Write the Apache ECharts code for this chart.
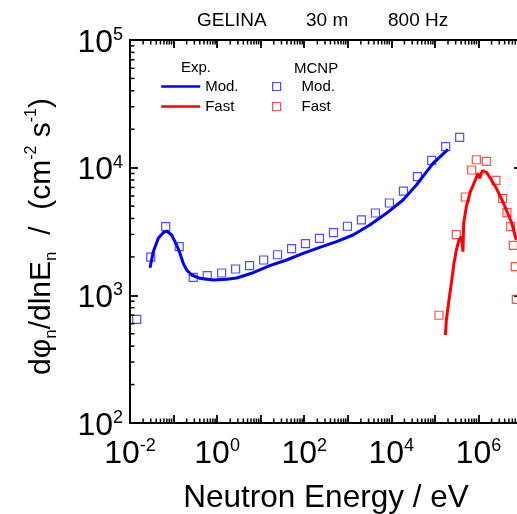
<!DOCTYPE html>
<html>
<head>
<meta charset="utf-8">
<script src="https://cdn.jsdelivr.net/npm/echarts@6/dist/echarts.min.js"></script>
<style>
html,body{margin:0;padding:0;background:#fff;}
#chart{width:517px;height:514px;}
</style>
</head>
<body>
<div id="chart"></div>
<script>
// ---- data ----
const expModEnergy = [0.0288, 0.0342, 0.0446, 0.0580, 0.0695, 0.0904, 0.1178, 0.1402, 0.1669, 0.1998, 0.2602, 0.4032, 0.814, 1.652, 2.801, 6.73, 16.26, 39.3, 94.4, 228, 551, 1323, 3195, 7720, 18550, 37640, 90450, 199800];
const expModFlux   = [1646, 2197, 2797, 3094, 3190, 2969, 2479, 2134, 1781, 1579, 1443, 1359, 1319, 1336, 1367, 1504, 1707, 1891, 2134, 2378, 2631, 2969, 3555, 4390, 5580, 7314, 10820, 13920];

const expFastEnergy = [174100, 183500, 210500, 238900, 274400, 311200, 357200, 405300, 441000, 457700, 527800, 652000, 818000, 974000, 1065000, 1229000, 1567000, 1977000, 2574000, 3352000, 4364000, 5684000, 7401000];
const expFastFlux   = [489, 641, 919, 1243, 1781, 2265, 2713, 2879, 2197, 3666, 4945, 6481, 7762, 9033, 8253, 9467, 9131, 8004, 6892, 5754, 4660, 3772, 2713];

const mcnpModEnergy = [0.01426, 0.0299, 0.0659, 0.135, 0.283, 0.593, 1.27, 2.66, 5.56, 11.7, 24.4, 51.2, 107, 224, 470, 984, 2060, 4315, 9040, 18960, 39700, 84500, 177000, 371000];
const mcnpModFlux   = [649, 1995, 3451, 2404, 1384, 1426, 1496, 1608, 1706, 1891, 2080, 2318, 2537, 2797, 3096, 3475, 3893, 4416, 5288, 6562, 8494, 11420, 14590, 17290];

const mcnpFastEnergy = [124200, 311200, 500600, 698200, 895000, 1518000, 2520000, 3589000, 4505000, 5477000, 6318000, 7022000, 7401000];
const mcnpFastFlux   = [698, 2985, 5891, 9587, 11540, 11220, 7962, 5754, 4438, 3448, 2466, 1676, 931];

const xLabelExponents = [-2, 0, 2, 4, 6];
const yLabelExponents = [2, 3, 4, 5];
const minorMultipliers = [2, 3, 4, 5, 6, 7, 8, 9];
const xDecades = [-2, -1, 0, 1, 2, 3, 4, 5, 6];
const yDecades = [2, 3, 4];

const titleParts = ['GELINA', '30 m', '800 Hz'];
const legendNames = {expMod: 'Mod.', expFast: 'Fast', mcnpMod: 'Mod.', mcnpFast: 'Fast'};

// ---- helpers ----
const FONT = '"Liberation Sans", Arial, Helvetica, sans-serif';
const BLUE = '#0000ff', RED = '#ff0000', MBLUE = '#2222ff', MRED = '#ff2222';
function zip(a, b) { return a.map((v, i) => [v, b[i]]); }
function expOf(v) { return Math.round(Math.log10(v)); }
const xMinor = [], yMinor = [];
xDecades.forEach(d => minorMultipliers.forEach(m => xMinor.push([m * Math.pow(10, d), 1000])));
yDecades.forEach(d => minorMultipliers.forEach(m => yMinor.push([1, m * Math.pow(10, d)])));

const tickRich = {
  b: {fontSize: 32, fontFamily: FONT, color: '#000', lineHeight: 34},
  s: {fontSize: 18, fontFamily: FONT, color: '#000', lineHeight: 18, verticalAlign: 'top'}
};
function xFmt(v) { const e = expOf(v); return xLabelExponents.indexOf(e) >= 0 ? '{b|10}{s|' + e + '}' : ''; }
function yFmt(v) { const e = expOf(v); return yLabelExponents.indexOf(e) >= 0 ? '{b|10}{s|' + e + '}' : ''; }

const axisLineStyle = {show: true, onZero: false, lineStyle: {color: '#000', width: 2}};
const tickStyle = {show: true, inside: true, length: 8, lineStyle: {color: '#000', width: 1.8}};
const MINOR_LEN = 4.5, MINOR_COLOR = '#000000', MINOR_W = 1.5;

function renderXMinor(params, api) {
  const cs = params.coordSys;
  const x = api.coord([api.value(0), api.value(1)])[0];
  const yb = cs.y + cs.height, yt = cs.y;
  return {type: 'group', children: [
    {type: 'line', shape: {x1: x, y1: yb, x2: x, y2: yb - MINOR_LEN}, style: {stroke: MINOR_COLOR, lineWidth: MINOR_W}},
    {type: 'line', shape: {x1: x, y1: yt, x2: x, y2: yt + MINOR_LEN}, style: {stroke: MINOR_COLOR, lineWidth: MINOR_W}}
  ]};
}
function renderYMinor(params, api) {
  const cs = params.coordSys;
  const y = api.coord([api.value(0), api.value(1)])[1];
  const xl = cs.x, xr = cs.x + cs.width;
  return {type: 'group', children: [
    {type: 'line', shape: {x1: xl, y1: y, x2: xl + MINOR_LEN, y2: y}, style: {stroke: MINOR_COLOR, lineWidth: MINOR_W}},
    {type: 'line', shape: {x1: xr, y1: y, x2: xr - MINOR_LEN, y2: y}, style: {stroke: MINOR_COLOR, lineWidth: MINOR_W}}
  ]};
}

const hiddenSymbol = {color: 'rgba(0,0,0,0)', borderColor: 'rgba(0,0,0,0)', borderWidth: 0, opacity: 0};
const squareIcon = 'path://M0,0L10,0L10,10L0,10Z';

const chart = echarts.init(document.getElementById('chart'), null, {renderer: 'canvas'});
const option = {
  animation: false,
  backgroundColor: '#fff',
  grid: {left: 130, top: 40, width: 392, height: 383, containLabel: false, outerBoundsMode: 'none'},
  xAxis: [
    {type: 'log', logBase: 10, min: 0.01, max: 1e7, splitNumber: 9, position: 'bottom',
     axisLine: axisLineStyle, axisTick: tickStyle, splitLine: {show: false},
     axisLabel: {interval: 0, formatter: xFmt, rich: tickRich, margin: 14, showMinLabel: true, showMaxLabel: true},
     name: 'Neutron Energy / eV', nameLocation: 'middle', nameGap: 59,
     nameTextStyle: {fontSize: 31.5, fontFamily: FONT, color: '#000'}},
    {type: 'log', logBase: 10, min: 0.01, max: 1e7, splitNumber: 9, position: 'top',
     axisLine: axisLineStyle, axisTick: tickStyle, splitLine: {show: false}, axisLabel: {show: false}}
  ],
  yAxis: [
    {type: 'log', logBase: 10, min: 100, max: 1e5, splitNumber: 3, position: 'left',
     axisLine: axisLineStyle, axisTick: tickStyle, splitLine: {show: false},
     axisLabel: {interval: 0, formatter: yFmt, rich: tickRich, margin: 7, padding: [6, 0, 0, 0], showMinLabel: true, showMaxLabel: true},
     name: '{t|dφ}{sub|n}{t|/dlnE}{sub|n}{t|  /  (cm}{sup|-2}{t| s}{sup|-1}{t|)}',
     nameLocation: 'middle', nameRotate: 90, nameGap: 70,
     nameTextStyle: {fontSize: 30, fontFamily: FONT, color: '#000', padding: [0, 10, 0, 0], rich: {
       t: {fontSize: 30, fontFamily: FONT, color: '#000', lineHeight: 36},
       sub: {fontSize: 17, fontFamily: FONT, color: '#000', lineHeight: 10, verticalAlign: 'bottom'},
       sup: {fontSize: 16, fontFamily: FONT, color: '#000', lineHeight: 16, verticalAlign: 'top'}
     }}},
    {type: 'log', logBase: 10, min: 100, max: 1e5, splitNumber: 3, position: 'right',
     axisLine: axisLineStyle, axisTick: tickStyle, splitLine: {show: false}, axisLabel: {show: false}}
  ],
  legend: [
    {data: [{name: 'expMod', itemStyle: hiddenSymbol}, {name: 'expFast', itemStyle: hiddenSymbol}],
     formatter: n => legendNames[n], left: 160, top: 79, padding: 0,
     orient: 'vertical', itemWidth: 39, itemHeight: 14, itemGap: 5, selectedMode: false,
     lineStyle: {width: 2.3},
     textStyle: {fontSize: 15, fontFamily: FONT, color: '#000', lineHeight: 14}},
    {data: [
       {name: 'mcnpMod', icon: squareIcon, itemStyle: {color: 'rgba(255,255,255,0)', borderColor: MBLUE, borderWidth: 1.2}},
       {name: 'mcnpFast', icon: squareIcon, itemStyle: {color: 'rgba(255,255,255,0)', borderColor: MRED, borderWidth: 1.2}}],
     formatter: n => legendNames[n], left: 272, top: 79, padding: 0,
     orient: 'vertical', itemWidth: 40, itemHeight: 8, itemGap: 5, selectedMode: false,
     textStyle: {fontSize: 15, fontFamily: FONT, color: '#000', lineHeight: 14}}
  ],
  graphic: [
    {type: 'text', left: 197, top: 11, style: {text: titleParts[0], font: '19px ' + FONT, fill: '#000'}},
    {type: 'text', left: 306, top: 11, style: {text: titleParts[1], font: '19px ' + FONT, fill: '#000'}},
    {type: 'text', left: 388, top: 11, style: {text: titleParts[2], font: '19px ' + FONT, fill: '#000'}},
    {type: 'text', left: 181, top: 60, style: {text: 'Exp.', font: '15px ' + FONT, fill: '#000'}},
    {type: 'text', left: 294, top: 61, style: {text: 'MCNP', font: '15px ' + FONT, fill: '#000'}}
  ],
  series: [
    {name: 'expMod', type: 'line', data: zip(expModEnergy, expModFlux), showSymbol: false, symbol: 'none',
     lineStyle: {color: BLUE, width: 3}, itemStyle: {color: BLUE}, z: 3},
    {name: 'expFast', type: 'line', data: zip(expFastEnergy, expFastFlux), showSymbol: false, symbol: 'none',
     lineStyle: {color: RED, width: 3}, itemStyle: {color: RED}, z: 3},
    {name: 'mcnpMod', type: 'scatter', data: zip(mcnpModEnergy, mcnpModFlux), symbol: 'rect', symbolSize: 8,
     itemStyle: {color: 'rgba(255,255,255,0)', borderColor: MBLUE, borderWidth: 1.2}, z: 2},
    {name: 'mcnpFast', type: 'scatter', data: zip(mcnpFastEnergy, mcnpFastFlux), symbol: 'rect', symbolSize: 8,
     itemStyle: {color: 'rgba(255,255,255,0)', borderColor: MRED, borderWidth: 1.2}, z: 2},
    {name: 'xMinorTicks', type: 'custom', coordinateSystem: 'cartesian2d', xAxisIndex: 0, yAxisIndex: 0,
     encode: {x: 0, y: 1}, clip: false, data: xMinor, renderItem: renderXMinor, silent: true, z: 5},
    {name: 'yMinorTicks', type: 'custom', coordinateSystem: 'cartesian2d', xAxisIndex: 0, yAxisIndex: 0,
     encode: {x: 0, y: 1}, clip: false, data: yMinor, renderItem: renderYMinor, silent: true, z: 5}
  ]
};
chart.setOption(option);
</script>
</body>
</html>
